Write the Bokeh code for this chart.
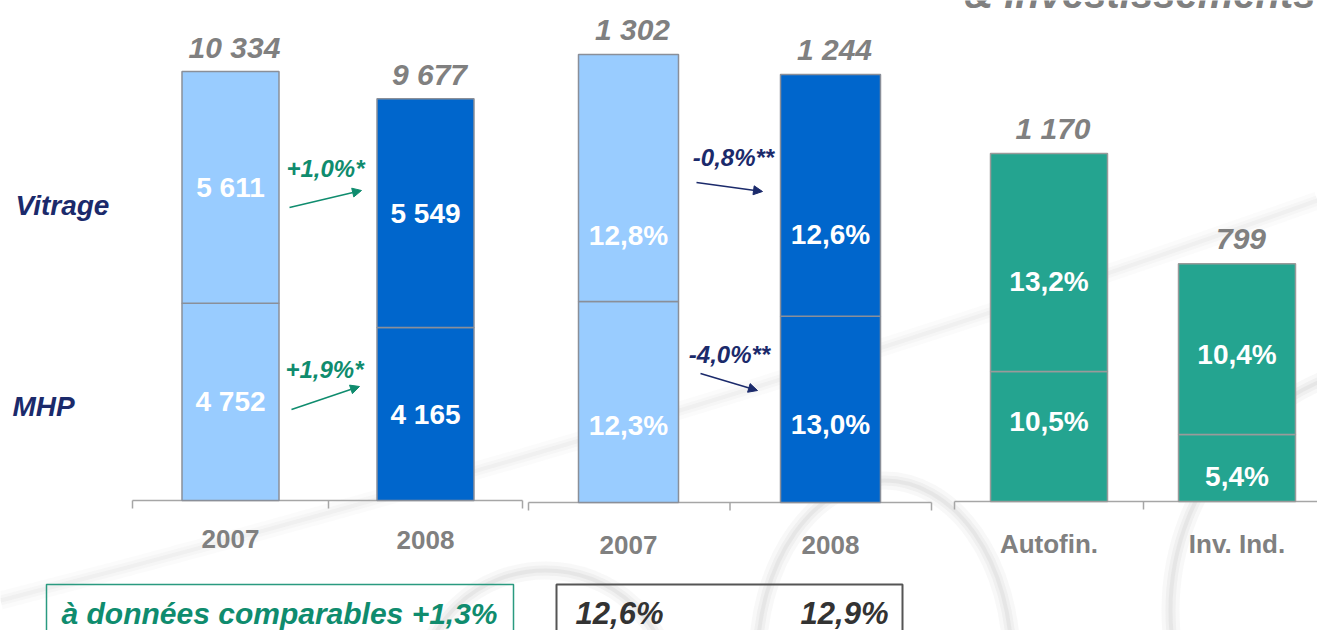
from bokeh.plotting import figure
from bokeh.models import Range1d, Arrow, NormalHead
from bokeh.embed import file_html
from bokeh.resources import INLINE
from bokeh.core.properties import value

# ---------------- data ----------------
years = ["2007", "2008"]
sales_total = [10334, 9677]
sales_vitrage = [5611, 5549]
sales_mhp = [4752, 4165]
sales_growth = ["+1,0%*", "+1,9%*"]          # Vitrage, MHP

ebit_total = [1302, 1244]
ebit_mhp = [584, 541]
ebit_margin_vitrage = ["12,8%", "12,6%"]
ebit_margin_mhp = ["12,3%", "13,0%"]
ebit_growth = ["-0,8%**", "-4,0%**"]          # Vitrage, MHP

cash_cats = ["Autofin.", "Inv. Ind."]
cash_total = [1170, 799]
cash_mhp = [437, 225]
cash_pct_vitrage = ["13,2%", "10,4%"]
cash_pct_mhp = ["10,5%", "5,4%"]

row_labels = ["Vitrage", "MHP"]
like_for_like = "à données comparables +1,3%"
group_margin = ["12,6%", "12,9%"]
title_text = "& Investissements"

# ---------------- style ----------------
FONT = value("Liberation Sans")
GRAY = "#808080"
NAVY = "#1B2A6B"
GREEN = "#0F8C6E"
LIGHT = "#99CCFF"
DARK = "#0066CC"
TEAL = "#24A490"
W, H = 1317, 630
TOP, BOTTOM = 0, H

p = figure(width=W, height=H, output_backend="svg", toolbar_location=None,
           x_range=Range1d(0, W), y_range=Range1d(BOTTOM, TOP),
           x_axis_type=None, y_axis_type=None,
           min_border=0, min_border_left=0, min_border_right=0,
           min_border_top=0, min_border_bottom=0)
p.outline_line_color = None
p.grid.visible = False
p.background_fill_color = "white"


def panel_range(base_px, ref_val, ref_px):
    k = (base_px - ref_px) / ref_val
    return Range1d(start=-(BOTTOM - base_px) / k, end=(base_px - TOP) / k)


p.extra_y_ranges = {
    "sales": panel_range(500, sales_total[0], 71),
    "ebit": panel_range(502, ebit_total[0], 54),
    "cash": panel_range(501, cash_total[0], 153),
}

# ---------------- watermark ----------------
for lw, al in [(18, 0.10), (10, 0.14), (4, 0.18)]:
    p.quadratic(x0=[0], y0=[600], x1=[1317], y1=[200], cx=[700], cy=[420],
                line_color="#bdbdbd", line_width=lw, line_alpha=al * 0.6)
    p.ellipse(x=[884, 545, 1420], y=[660, 690, 610], width=[254, 250, 500],
              height=[360, 240, 500], fill_color=None,
              line_color="#bdbdbd", line_width=lw, line_alpha=al)

# ---------------- panels ----------------
sales_x = [230, 425]
ebit_x = [628, 830]
cash_x = [1048.5, 1236.5]

# axes (baseline + group ticks)
axes = [((132, 522), (132, 328, 522), 500),
        ((528, 931), (528, 729.5, 931), 502),
        ((954, 1340), (954, 1143), 501)]
for (xa, xb), ticks, yb in axes:
    p.segment(x0=[xa], y0=[yb], x1=[xb], y1=[yb], line_color="#a6a6a6", line_width=1.5)
    p.segment(x0=list(ticks), y0=[yb] * len(ticks), x1=list(ticks),
              y1=[yb + 8] * len(ticks), line_color="#a6a6a6", line_width=1.5)

colors = [LIGHT, DARK]
# sales
p.vbar(x=sales_x, width=97, bottom=0, top=sales_mhp, fill_color=colors,
       line_color="#8a8f99", line_width=1.5, y_range_name="sales")
p.vbar(x=sales_x, width=97, bottom=sales_mhp, top=sales_total, fill_color=colors,
       line_color="#8a8f99", line_width=1.5, y_range_name="sales")
# ebit
p.vbar(x=ebit_x, width=100, bottom=0, top=ebit_mhp, fill_color=colors,
       line_color="#8a8f99", line_width=1.5, y_range_name="ebit")
p.vbar(x=ebit_x, width=100, bottom=ebit_mhp, top=ebit_total, fill_color=colors,
       line_color="#8a8f99", line_width=1.5, y_range_name="ebit")
# cash
p.vbar(x=cash_x, width=117, bottom=0, top=cash_mhp, fill_color=TEAL,
       line_color="#9a9a9a", line_width=1.5, y_range_name="cash")
p.vbar(x=cash_x, width=117, bottom=cash_mhp, top=cash_total, fill_color=TEAL,
       line_color="#9a9a9a", line_width=1.5, y_range_name="cash")


def fmt(v):
    return f"{v:,}".replace(",", " ")


def txt(x, y, t, size, color, style="bold", align="center", base="middle", **kw):
    p.text(x=x, y=y, text=t, text_font=FONT, text_font_size=size,
           text_color=color, text_font_style=style, text_align=align,
           text_baseline=base, **kw)


# totals
txt([x + 4 for x in sales_x], sales_total, [fmt(v) for v in sales_total], "30px", GRAY,
    "bold italic", y_offset=-24, y_range_name="sales")
txt([x + 4 for x in ebit_x], ebit_total, [fmt(v) for v in ebit_total], "30px", GRAY,
    "bold italic", y_offset=-25, y_range_name="ebit")
txt([x + 4 for x in cash_x], cash_total, [fmt(v) for v in cash_total], "30px", GRAY,
    "bold italic", y_offset=-25, y_range_name="cash")

# sales segment labels (segment centres)
txt(sales_x, [(m + t) / 2 for m, t in zip(sales_mhp, sales_total)],
    [fmt(v) for v in sales_vitrage], "28px", "white", y_range_name="sales")
txt(sales_x, [m / 2 for m in sales_mhp], [fmt(v) for v in sales_mhp], "28px", "white",
    y_range_name="sales")

# ebit margins
txt(ebit_x, [235, 234], ebit_margin_vitrage, "28px", "white")
txt(ebit_x, [425, 424], ebit_margin_mhp, "28px", "white")

# cash percentages
txt(cash_x, [281, 354], cash_pct_vitrage, "28px", "white")
txt(cash_x, [421, 476], cash_pct_mhp, "28px", "white")

# category labels
txt(sales_x, [538, 539], years, "26px", GRAY)
txt(ebit_x, [544, 544], years, "26px", GRAY)
txt(cash_x, [543, 543], cash_cats, "26px", GRAY)

# row labels
txt([15, 12], [205, 406], row_labels, "28px", NAVY, "bold italic", align="left")

# growth annotations
txt([325, 324], [168, 369], sales_growth, "24px", GREEN, "bold italic")
txt([733, 729], [157, 354], ebit_growth, "24px", NAVY, "bold italic")
for (xs, ys, xe, ye, c) in [(289, 207, 361, 190, GREEN), (291, 409, 359, 386, GREEN),
                            (696, 182, 762, 191, NAVY), (700, 373, 757, 390, NAVY)]:
    p.add_layout(Arrow(end=NormalHead(size=9, fill_color=c, line_color=c),
                       x_start=xs, y_start=ys, x_end=xe, y_end=ye,
                       line_color=c, line_width=1.5))

# bottom boxes
p.quad(left=[46], right=[513], top=[584], bottom=[650], fill_color=None,
       line_color="#2A9A80", line_width=1.5)
p.quad(left=[556], right=[902], top=[584], bottom=[650], fill_color=None,
       line_color="#555555", line_width=2)
txt([61], [613], [like_for_like], "30px", GREEN, "bold italic", align="left")
txt([619, 844], [613, 613], group_margin, "31px", "#333333", "bold italic")

# title (only its lower edge shows at the top, as in the original slide)
txt([1315], [-7], [title_text], "40px", GRAY, "bold italic", align="right", base="alphabetic")

open("out.html", "w").write(file_html(p, INLINE))
